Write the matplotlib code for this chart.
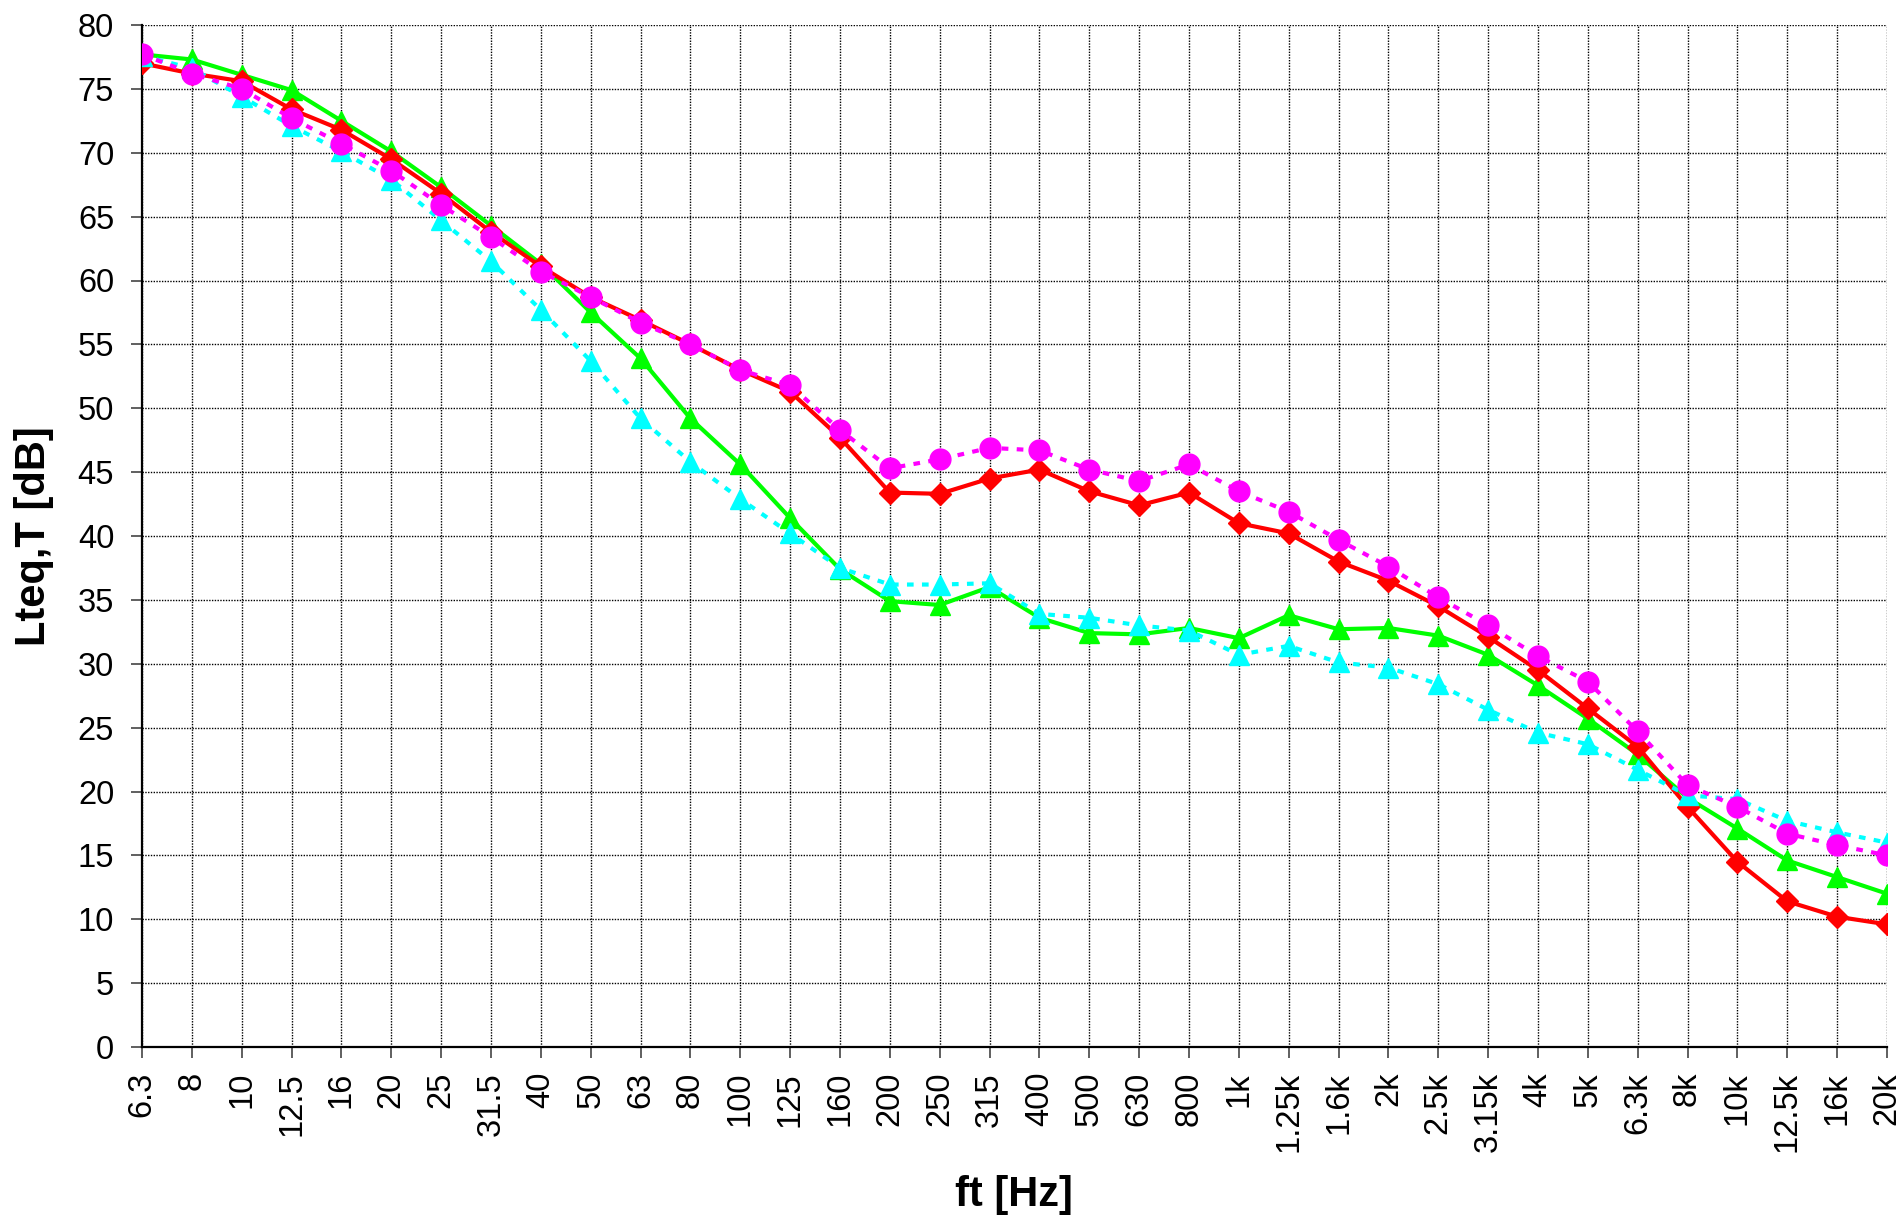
import matplotlib
matplotlib.use("Agg")
import matplotlib.pyplot as plt

plt.rcParams['font.family'] = ['Liberation Sans', 'DejaVu Sans']

freq_labels = ['6.3', '8', '10', '12.5', '16', '20', '25', '31.5', '40', '50', '63', '80',
               '100', '125', '160', '200', '250', '315', '400', '500', '630', '800',
               '1k', '1.25k', '1.6k', '2k', '2.5k', '3.15k', '4k', '5k', '6.3k', '8k',
               '10k', '12.5k', '16k', '20k']

red_vals = [77.0, 76.2, 75.6, 73.4, 71.8, 69.5, 66.8, 63.8, 61.1, 58.7, 56.9, 55.0,
            53.0, 51.3, 47.7, 43.4, 43.3, 44.5, 45.2, 43.5, 42.4, 43.4,
            41.0, 40.2, 38.0, 36.5, 34.5, 32.1, 29.5, 26.5, 23.5, 18.8,
            14.5, 11.4, 10.2, 9.6]

green_vals = [77.7, 77.3, 76.1, 74.9, 72.5, 70.1, 67.3, 64.3, 61.3, 57.5, 53.9, 49.2,
              45.6, 41.4, 37.4, 34.9, 34.6, 36.0, 33.6, 32.4, 32.3, 32.8,
              32.0, 33.8, 32.7, 32.8, 32.2, 30.7, 28.3, 25.7, 22.9, 19.5,
              17.1, 14.6, 13.3, 12.0]

cyan_vals = [77.6, 76.6, 74.4, 72.1, 70.1, 67.9, 64.7, 61.5, 57.7, 53.7, 49.2, 45.8,
             42.9, 40.2, 37.5, 36.2, 36.2, 36.3, 33.9, 33.6, 33.0, 32.6,
             30.7, 31.4, 30.1, 29.7, 28.4, 26.4, 24.6, 23.7, 21.7, 19.7,
             19.4, 17.7, 16.8, 16.0]

magenta_vals = [77.7, 76.2, 75.0, 72.7, 70.7, 68.6, 65.9, 63.4, 60.7, 58.7, 56.7, 55.0,
                53.0, 51.8, 48.3, 45.3, 46.0, 46.9, 46.7, 45.2, 44.3, 45.6,
                43.5, 41.9, 39.7, 37.6, 35.2, 33.0, 30.6, 28.6, 24.7, 20.5,
                18.8, 16.7, 15.8, 15.0]

y_ticks = list(range(0, 81, 5))

fig = plt.figure(figsize=(19.02, 12.17), dpi=100)
W, H = 1902, 1217
ax_l, ax_r, ax_t, ax_b = 142, 1887, 25, 1047
ax = fig.add_axes([ax_l / W, 1 - ax_b / H, (ax_r - ax_l) / W, (ax_b - ax_t) / H])

x = list(range(len(freq_labels)))

ax.plot(x, green_vals, color='#00FF00', lw=3, marker='^', ms=14.5, mec='#00FF00', zorder=3)
ax.plot(x, red_vals, color='#FF0000', lw=3, marker='D', ms=11.5, mec='#FF0000', zorder=4)
ax.plot(x, cyan_vals, color='#00FFFF', lw=3, ls=(0, (1.6, 2.0)), marker='^', ms=14.5,
        mec='#00FFFF', zorder=5)
ax.plot(x, magenta_vals, color='#FF00FF', lw=3, ls=(0, (1.6, 2.0)), marker='o', ms=15,
        mec='#FF00FF', zorder=6)

ax.set_xlim(0, len(freq_labels) - 1)
ax.set_ylim(0, 80)
ax.set_xticks(x)
ax.set_xticklabels(freq_labels, rotation=90)
ax.set_yticks(y_ticks)

ax.grid(True, color='#000000', lw=1, ls=(0, (1, 1)), zorder=0)
ax.set_axisbelow(True)

for s in ['top', 'right']:
    ax.spines[s].set_visible(False)
for s in ['left', 'bottom']:
    ax.spines[s].set_color('black')
    ax.spines[s].set_linewidth(1.6)

ax.tick_params(axis='both', direction='out', length=8, width=1.2, color='#444444',
               labelsize=23.5)
ax.tick_params(axis='x', pad=10)
ax.tick_params(axis='y', pad=12)

fig.text(34 / W, 1 - 536 / H, 'Lteq,T [dB]', rotation=90, ha='center', va='center',
         fontsize=30, fontweight='bold')
fig.text(1014 / W, 1 - 1206 / H, 'ft [Hz]', ha='center', va='baseline',
         fontsize=30, fontweight='bold')

fig.savefig('out.png', dpi=100)
